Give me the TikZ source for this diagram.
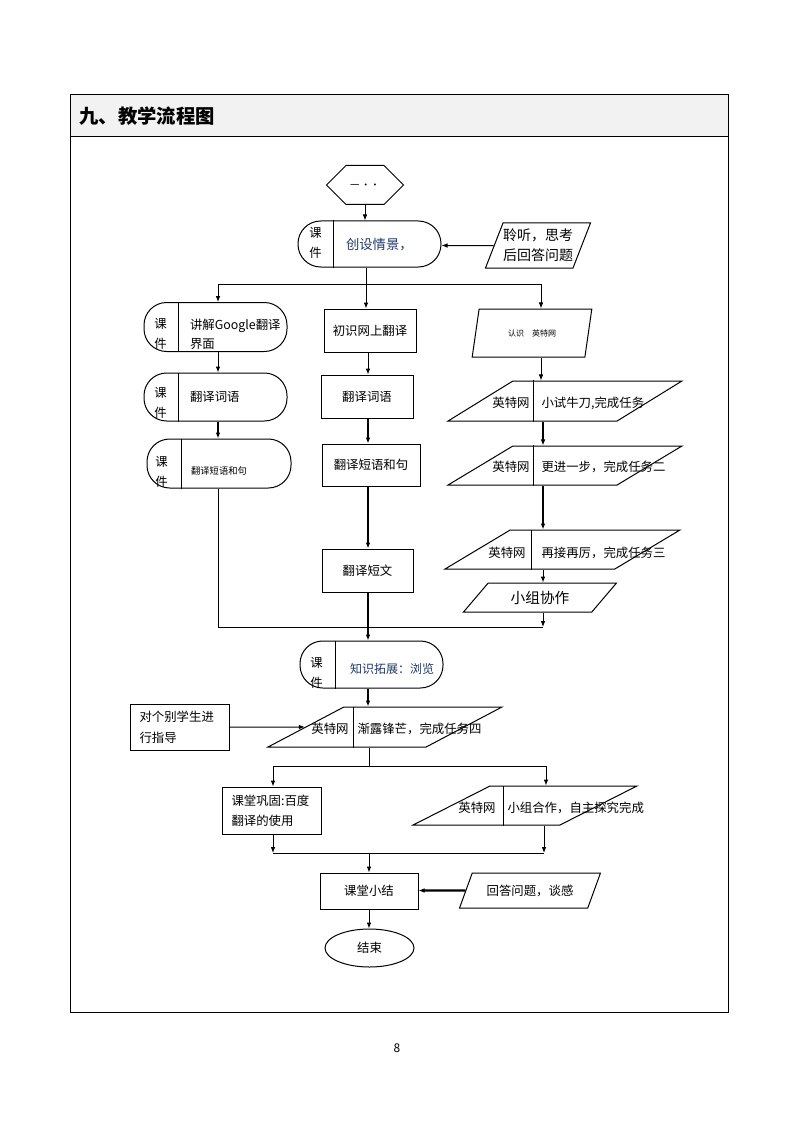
\documentclass[tikz,border=0pt]{standalone}
\usepackage{fontspec}
\setmainfont{Noto Sans CJK SC}
\usetikzlibrary{arrows.meta,positioning,calc,shapes.geometric,shapes.symbols}

\definecolor{kjblue}{RGB}{31,56,100}
\definecolor{headgray}{RGB}{242,242,242}

\begin{document}
\begin{tikzpicture}[x=0.75pt, y=-0.75pt, line width=0.75pt,
    >={Latex[length=4.5pt,width=3.5pt]},
    wh/.style 2 args={minimum width=#1*0.75pt, minimum height=#2*0.75pt},
    txt/.style={font=\fontsize{9.3}{12}\selectfont, inner sep=0pt},
    box/.style={draw, rectangle, txt},
    capsule/.style={draw, rectangle, rounded corners=17pt, inner sep=0pt},
    para/.style={draw, trapezium, trapezium stretches=true, txt},
    side/.style={font=\fontsize{9.3}{15}\selectfont, align=center, inner sep=0pt},
    hexa/.style={draw, signal, signal to=east and west, signal pointer angle=90, inner sep=0pt},
    thickline/.style={line width=1.6pt}]
  \useasboundingbox (0,0) rectangle (794,1123);

  % frame
  \fill[headgray] (70,95) rectangle (728,137);
  \draw (70,95) rectangle (728,1012);
  \draw (70,137) -- (728,137);
  \node[anchor=west, inner sep=0pt, font=\fontsize{14.5}{16}\selectfont\bfseries] at (79,116)
  (title) {九、教学流程图};
  \node[font=\fontsize{9}{10}\selectfont] at (397,1048) (pg) {8};

  % nodes
  \node[hexa, wh={77}{39}] at (365,185)
  (hx) {\raisebox{-5pt}{\fontsize{7}{8}\selectfont 一\,··}};

  \node[capsule, wh={143}{46}] at (369.5,244) (kj1) {};
  \node[side] at ($(kj1.west)+(18,-1)$) (kj1s) {课\\件};
  \node[txt, anchor=west, text=kjblue, font=\fontsize{10}{12}\selectfont] at ($(kj1.west)+(48,1)$)
  (kj1t) {创设情景，};
  \node[para, wh={104}{45}, trapezium left angle=62, trapezium right angle=118,
        align=center, font=\fontsize{10.5}{15}\selectfont] at (538,245.5)
  (pq) {聆听，思考\\后回答问题};

  \node[capsule, wh={143}{49}] at (215.5,327) (kj2) {};
  \node[side] at ($(kj2.west)+(17,7)$) (kj2s) {课\\件};
  \node[txt, anchor=west, align=left, font=\fontsize{9.3}{14}\selectfont] at ($(kj2.west)+(46,7)$)
  (kj2t) {讲解Google翻译\\界面};
  \node[capsule, wh={143}{48}] at (215.5,397) (kj3) {};
  \node[side] at ($(kj3.west)+(17,6)$) (kj3s) {课\\件};
  \node[txt, anchor=west] at ($(kj3.west)+(46,0)$) (kj3t) {翻译词语};
  \node[capsule, wh={144}{49}] at (219,463.5) (kj4) {};
  \node[side] at ($(kj4.west)+(15,8)$) (kj4s) {课\\件};
  \node[txt, anchor=west, font=\fontsize{7}{8}\selectfont] at ($(kj4.west)+(44,7)$)
  (kj4t) {翻译短语和句};

  \node[box, wh={92}{43}] at (370,330.5) (m1) {初识网上翻译};
  \node[box, wh={92}{43}] at (367,396.5) (m2) {翻译词语};
  \node[box, wh={98}{42}] at (371,465) (m3) {翻译短语和句};
  \node[box, wh={91}{43}] at (367.5,570.5) (m4) {翻译短文};

  \node[para, wh={120}{48}, trapezium left angle=67, trapezium right angle=113,
        font=\fontsize{6}{7}\selectfont] at (532,333)
  (pr0) {认识\quad 英特网};
  \node[para, wh={234}{40}, trapezium left angle=56, trapezium right angle=124] at (565,401)
  (pr1) {\phantom{英}};
  \node[txt] at (511,403) (pr1a) {英特网};
  \node[txt, anchor=west] at (541,403) (pr1b) {小试牛刀,完成任务};
  \node[para, wh={234}{39}, trapezium left angle=56, trapezium right angle=124] at (565,465.5)
  (pr2) {\phantom{英}};
  \node[txt] at (511,467) (pr2a) {英特网};
  \node[txt, anchor=west] at (541,467) (pr2b) {更进一步，完成任务二};
  \node[para, wh={235}{39}, trapezium left angle=56, trapezium right angle=124] at (562.5,549.5)
  (pr3) {\phantom{英}};
  \node[txt] at (507,553) (pr3a) {英特网};
  \node[txt, anchor=west] at (541,553) (pr3b) {再接再厉，完成任务三};
  \node[para, wh={154}{29}, trapezium left angle=44, trapezium right angle=136,
        font=\fontsize{11}{12}\selectfont] at (540,597.5) (pr4) {小组协作};

  \node[capsule, wh={143}{47}] at (371.5,664.5) (kj5) {};
  \node[side] at ($(kj5.west)+(17,8)$) (kj5s) {课\\件};
  \node[txt, anchor=west, text=kjblue, font=\fontsize{9}{12}\selectfont] at ($(kj5.west)+(50,4)$)
  (kj5t) {知识拓展：浏览};

  \node[box, wh={99}{46}, text width=60pt, inner xsep=7pt, align=left,
        font=\fontsize{9.3}{15.5}\selectfont] at (179.5,727) (zd) {对个别学生进\\行指导};
  \node[para, wh={234}{40}, trapezium left angle=45, trapezium right angle=135] at (385,727)
  (pr5) {\phantom{英}};
  \node[txt] at (330,729) (pr5a) {英特网};
  \node[txt, anchor=west] at (357,729) (pr5b) {渐露锋芒，完成任务四};

  \node[box, wh={99}{47}, text width=60pt, inner xsep=7pt, align=left,
        font=\fontsize{9.3}{15}\selectfont] at (271.5,810.5) (gg) {课堂巩固:百度\\翻译的使用};
  \node[para, wh={224}{39}, trapezium left angle=40, trapezium right angle=140] at (525,805.5)
  (pr6) {\phantom{英}};
  \node[txt] at (477,808) (pr6a) {英特网};
  \node[txt, anchor=west] at (507,808) (pr6b) {小组合作，自主探究完成};

  \node[box, wh={98}{36}] at (369,891) (xj) {课堂小结};
  \node[para, wh={142}{35}, trapezium left angle=51, trapezium right angle=129] at (530,890.5)
  (pr7) {回答问题，谈感};
  \node[draw, ellipse, wh={89}{38}, txt] at (369.5,948) (end) {结束};

  % dividers
  \draw ($(kj1.north west)+(36,0)$) -- ($(kj1.south west)+(36,0)$);
  \draw ($(kj2.north west)+(35,0)$) -- ($(kj2.south west)+(35,0)$);
  \draw ($(kj3.north west)+(35,0)$) -- ($(kj3.south west)+(35,0)$);
  \draw ($(kj4.north west)+(35,0)$) -- ($(kj4.south west)+(35,0)$);
  \draw ($(kj5.north west)+(36,0)$) -- ($(kj5.south west)+(36,0)$);
  \draw ($(pr1.north)+(-32,0)$) -- ($(pr1.south)+(-32,0)$);
  \draw ($(pr2.north)+(-32,0)$) -- ($(pr2.south)+(-32,0)$);
  \draw ($(pr3.north)+(-31.5,0)$) -- ($(pr3.south)+(-31.5,0)$);
  \draw ($(pr5.north)+(-32,0)$) -- ($(pr5.south)+(-32,0)$);
  \draw ($(pr6.north)+(-22,0)$) -- ($(pr6.south)+(-22,0)$);

  % junctions
  \coordinate (f1) at (366,284);
  \coordinate (f1l) at (218,284);
  \coordinate (f1r) at (541,284);
  \coordinate (j1) at (368,627);
  \coordinate (j1l) at (218,627);
  \coordinate (j1r) at (543,627);
  \coordinate (f2) at (369,766);
  \coordinate (f2l) at (273,766);
  \coordinate (f2r) at (546,766);
  \coordinate (j2) at (369,853);
  \coordinate (j2l) at (273,853);
  \coordinate (j2r) at (544,853);

  % arcs
  \draw[->] (hx.south) -- (hx.south |- kj1.north);
  \draw[->] (pq) -- (pq -| kj1.east);
  \draw (kj1.south -| f1) -- (f1);
  \draw (f1l) -- (f1r);
  \path[->]
  (f1) edge (f1 |- m1.north)
  (f1l) edge (f1l |- kj2.north)
  (f1r) edge (f1r |- pr0.north)
  (kj2.south -| f1l) edge (f1l |- kj3.north)
  (m1.south -| j1) edge (j1 |- m2.north)
  (pr0.south -| f1r) edge (f1r |- pr1.north)
  (pr3.south -| j1r) edge (j1r |- pr4.north)
  (pr4.south -| j1r) edge (j1r)
  ;
  \path[->, thickline]
  (kj3.south -| f1l) edge (f1l |- kj4.north)
  (m2.south -| j1) edge (j1 |- m3.north)
  (m3.south -| j1) edge (j1 |- m4.north)
  (m4.south -| j1) edge (j1 |- kj5.north)
  (pr1.south -| j1r) edge (j1r |- pr2.north)
  (pr2.south -| j1r) edge (j1r |- pr3.north)
  (kj5.south -| j1) edge (j1 |- pr5.north)
  ;
  \draw (kj4.south -| f1l) -- (j1l);
  \draw (j1l) -- (j1r);

  \draw[->] (zd.east |- pr5) -- (pr5);
  \draw (pr5.south -| f2) -- (f2);
  \draw (f2l) -- (f2r);
  \path[->]
  (f2l) edge (f2l |- gg.north)
  (f2r) edge (f2r |- pr6.north)
  (gg.south -| j2l) edge (j2l)
  (pr6.south -| j2r) edge (j2r)
  (j2) edge (j2 |- xj.north)
  (xj.south -| j2) edge (j2 |- end.north)
  ;
  \draw (j2l) -- (j2r);
  \draw[->, thickline] (pr7) -- (pr7 -| xj.east);
\end{tikzpicture}
\end{document}
